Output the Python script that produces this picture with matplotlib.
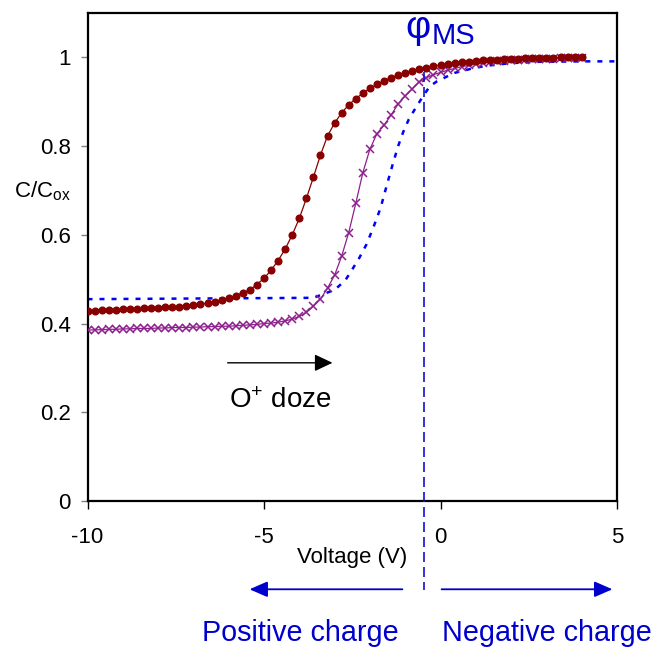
import numpy as np
import matplotlib
matplotlib.use("Agg")
import matplotlib.pyplot as plt

plt.rcParams['font.family'] = ['Liberation Sans', 'DejaVu Sans']
plt.rcParams['mathtext.fontset'] = 'custom'
plt.rcParams['mathtext.rm'] = 'Liberation Sans'
plt.rcParams['mathtext.it'] = 'Liberation Sans:italic'
plt.rcParams['axes.unicode_minus'] = False

# Gate voltage sweep (V)
voltage = [-10.0, -9.8, -9.6, -9.4, -9.2, -9.0, -8.8, -8.6, -8.4, -8.2,
           -8.0, -7.8, -7.6, -7.4, -7.2, -7.0, -6.8, -6.6, -6.4, -6.2,
           -6.0, -5.8, -5.6, -5.4, -5.2, -5.0, -4.8, -4.6, -4.4, -4.2,
           -4.0, -3.8, -3.6, -3.4, -3.2, -3.0, -2.8, -2.6, -2.4, -2.2,
           -2.0, -1.8, -1.6, -1.4, -1.2, -1.0, -0.8, -0.6, -0.4, -0.2,
           0.0, 0.2, 0.4, 0.6, 0.8, 1.0, 1.2, 1.4, 1.6, 1.8,
           2.0, 2.2, 2.4, 2.6, 2.8, 3.0, 3.2, 3.4, 3.6, 3.8, 4.0]

# C/Cox, higher O+ dose (shifted furthest left)
c_high = [0.428, 0.429, 0.430, 0.430, 0.431, 0.432, 0.433, 0.433, 0.434, 0.435,
          0.436, 0.437, 0.437, 0.438, 0.440, 0.441, 0.443, 0.446, 0.449, 0.453,
          0.458, 0.463, 0.469, 0.476, 0.488, 0.502, 0.520, 0.542, 0.568, 0.600,
          0.637, 0.682, 0.730, 0.780, 0.823, 0.852, 0.875, 0.893, 0.907, 0.919,
          0.930, 0.939, 0.947, 0.954, 0.960, 0.965, 0.970, 0.974, 0.977, 0.980,
          0.983, 0.985, 0.987, 0.989, 0.990, 0.992, 0.993, 0.994, 0.995, 0.996,
          0.997, 0.997, 0.998, 0.998, 0.999, 0.999, 0.999, 1.000, 1.000, 1.000, 1.000]

# C/Cox, lower O+ dose
c_low = [0.385, 0.386, 0.386, 0.387, 0.387, 0.388, 0.388, 0.389, 0.389, 0.389,
         0.390, 0.390, 0.391, 0.391, 0.391, 0.392, 0.392, 0.393, 0.393, 0.394,
         0.394, 0.395, 0.396, 0.397, 0.398, 0.400, 0.401, 0.403, 0.406, 0.410,
         0.416, 0.425, 0.439, 0.455, 0.480, 0.509, 0.552, 0.605, 0.671, 0.740,
         0.793, 0.828, 0.847, 0.870, 0.895, 0.913, 0.929, 0.945, 0.954, 0.961,
         0.966, 0.971, 0.975, 0.979, 0.982, 0.985, 0.987, 0.989, 0.991, 0.992,
         0.993, 0.994, 0.995, 0.996, 0.996, 0.997, 0.997, 0.998, 0.998, 0.998, 0.999]

# Ideal C-V curve (no oxide charge)
v_ideal = [-10.0, -3.6, -3.3, -3.0, -2.7, -2.5, -2.3, -2.1, -1.9, -1.7, -1.5,
           -1.35, -1.2, -1.05, -0.9, -0.75, -0.5, -0.3, -0.1, 0.4, 1.0, 1.4,
           2.0, 2.8, 4.0, 5.0]
c_ideal = [0.455, 0.458, 0.467, 0.476, 0.497, 0.522, 0.548, 0.578, 0.617, 0.660, 0.718,
           0.760, 0.800, 0.833, 0.860, 0.880, 0.912, 0.935, 0.946, 0.965, 0.977, 0.982,
           0.987, 0.990, 0.991, 0.991]

phi_ms = -0.48  # work function difference (V)

blue = '#0000CC'

fig = plt.figure(figsize=(6.55, 6.5), dpi=100)
ax = fig.add_axes([87.5/655, 149/650, 529.5/655, 488/650])

ax.plot(v_ideal, c_ideal, color='#0000FF', lw=1.8, ls=(0, (2, 2.8)),
        dash_capstyle='butt', zorder=2)
ax.plot(voltage, c_low, color='#8E1F8E', lw=0.9, marker='x', ms=6, mew=1.1, zorder=3)
ax.plot(voltage, c_high, color='#880000', lw=0.9, marker='o', ms=4.8, zorder=4)

# phi_MS marker line, running below the axis
ax.plot([phi_ms, phi_ms], [0.968, -0.2], color='#1010D0', lw=1.2,
        ls=(0, (6, 3)), clip_on=False, zorder=5)
ax.text(phi_ms - 0.17, 1.043, 'φ', color=blue, fontsize=28, ha='center', va='baseline')
ax.text(phi_ms + 0.22, 1.029, 'MS', color=blue, fontsize=21, ha='left', va='baseline')

# dose arrow
ax.annotate('', xy=(-3.06, 0.3115), xytext=(-6.03, 0.3115),
            arrowprops=dict(arrowstyle='-|>,head_length=0.55,head_width=0.26',
                            mutation_scale=20, color='black', lw=1.0,
                            shrinkA=0, shrinkB=0))
ax.text(-4.55, 0.21, r'O$^{\mathrm{+}}$ doze', fontsize=20, ha='center', va='baseline')

# charge direction arrows
ax.annotate('', xy=(-5.41, -0.199), xytext=(-1.08, -0.199), annotation_clip=False,
            arrowprops=dict(arrowstyle='-|>,head_length=0.55,head_width=0.24',
                            mutation_scale=20, color=blue, lw=1.3,
                            shrinkA=0, shrinkB=0))
ax.annotate('', xy=(4.87, -0.199), xytext=(0.03, -0.199), annotation_clip=False,
            arrowprops=dict(arrowstyle='-|>,head_length=0.55,head_width=0.24',
                            mutation_scale=20, color=blue, lw=1.3,
                            shrinkA=0, shrinkB=0))
ax.text(-3.97, -0.316, 'Positive charge', color=blue, fontsize=20.7,
        ha='center', va='baseline', clip_on=False)
ax.text(3.0, -0.316, 'Negative charge', color=blue, fontsize=20.7,
        ha='center', va='baseline', clip_on=False)

ax.set_xlim(-10, 5)
ax.set_ylim(0, 1.1)
ax.set_xticks([-10, -5, 0, 5])
ax.set_yticks([0, 0.2, 0.4, 0.6, 0.8, 1.0])
ax.set_yticklabels(['0', '0.2', '0.4', '0.6', '0.8', '1'])
ax.tick_params(axis='y', direction='out', length=5, width=1, color='#808080',
               pad=7, labelsize=16)
ax.tick_params(axis='x', direction='out', length=6, width=1, color='black',
               pad=13, labelsize=16)
for s in ax.spines.values():
    s.set_linewidth(1.6)
    s.set_color('black')

ax.set_xlabel('Voltage (V)', fontsize=16, labelpad=-1)
fig.text(14/655, 1 - 197/650, r'C/C$_{\mathrm{ox}}$', fontsize=16, va='baseline')

fig.savefig('out.png', dpi=100)
